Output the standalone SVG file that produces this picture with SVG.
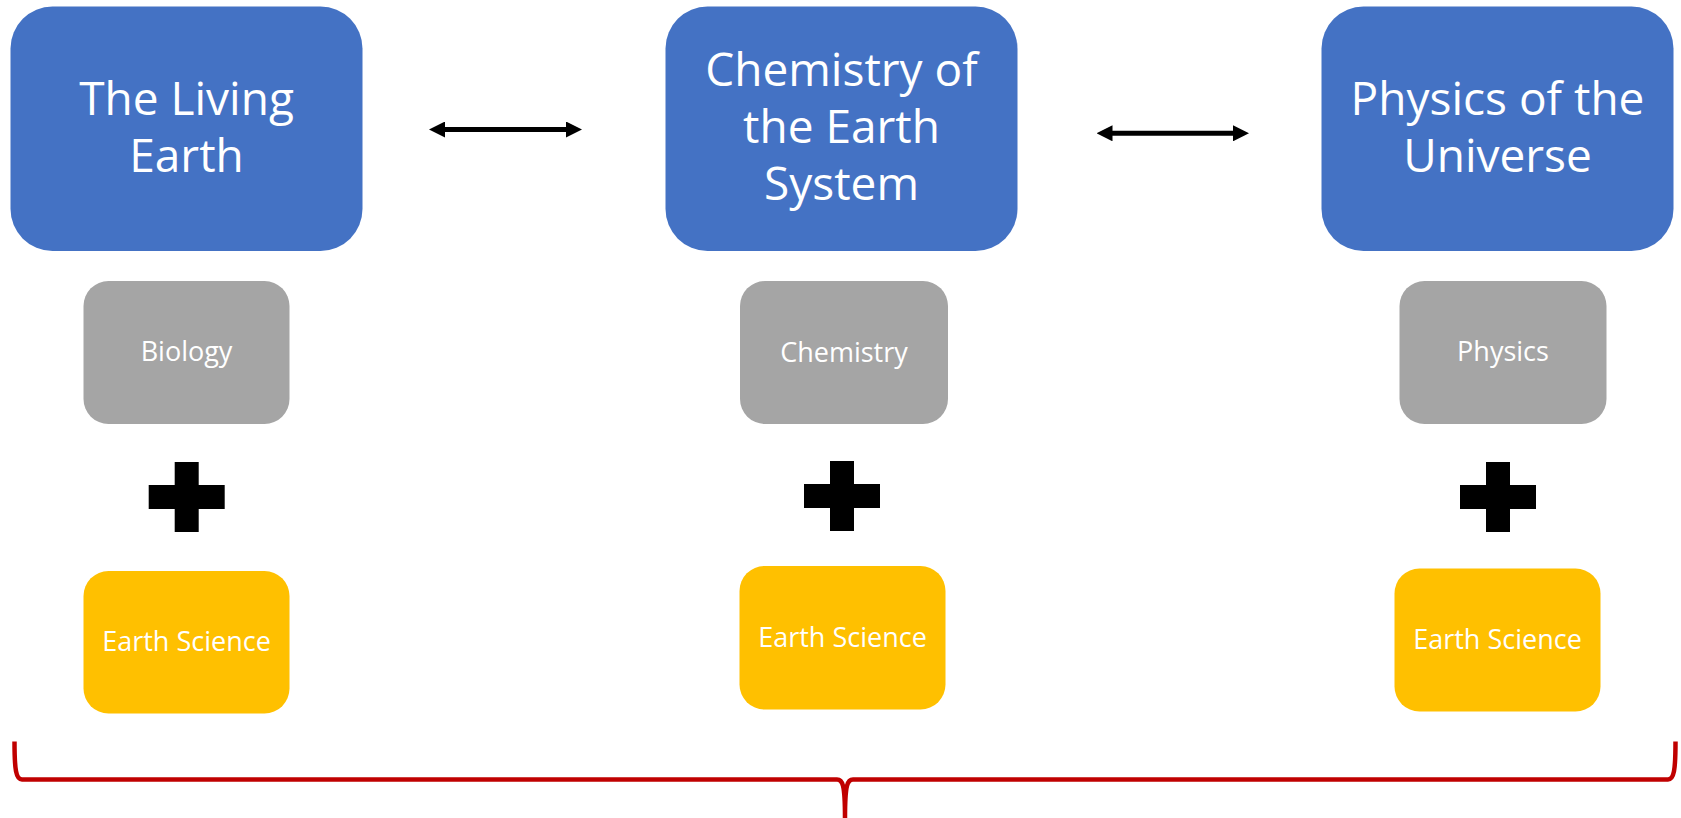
<svg xmlns="http://www.w3.org/2000/svg" width="1681" height="818" viewBox="0 0 1681 818">
<style>
.title{fill:#4472C4}
.sub{fill:#A5A5A5}
.earth{fill:#FFC000}
.big{font-family:"Open Sans","Liberation Sans",sans-serif;font-size:46px;fill:#FFFFFF;text-anchor:middle}
.small{font-family:"Open Sans","Liberation Sans",sans-serif;font-size:27px;fill:#FFFFFF;text-anchor:middle}
.plus{fill:#000000}
.conn{stroke:#000000;stroke-width:5;fill:none}
.brace{stroke:#C00000;stroke-width:4.5;fill:none;stroke-linejoin:round}
</style>
<defs>
<marker id="ah" viewBox="0 0 16 16" markerWidth="16" markerHeight="16" markerUnits="userSpaceOnUse" refX="8" refY="8" orient="auto-start-reverse">
<path d="M0,0 L16,8 L0,16 Z" fill="#000000"/>
</marker>
</defs>
<rect width="1681" height="818" fill="#FFFFFF"/>

<g id="living-earth">
<rect class="title" x="10.5" y="6.5" width="352" height="244.5" rx="42"/>
<text class="big" x="186.5" y="115">The Living</text>
<text class="big" x="186.5" y="172">Earth</text>
</g>
<g id="chemistry-earth-system">
<rect class="title" x="665.5" y="6.5" width="352" height="244.5" rx="42"/>
<text class="big" x="841.5" y="86">Chemistry of</text>
<text class="big" x="841.5" y="143">the Earth</text>
<text class="big" x="841.5" y="200">System</text>
</g>
<g id="physics-universe">
<rect class="title" x="1321.5" y="6.5" width="352" height="244.5" rx="42"/>
<text class="big" x="1497.5" y="115">Physics of the</text>
<text class="big" x="1497.5" y="172">Universe</text>
</g>

<g id="biology">
<rect class="sub" x="83.5" y="281" width="206" height="143" rx="25"/>
<text class="small" x="186.5" y="361">Biology</text>
</g>
<g id="chemistry">
<rect class="sub" x="740" y="281" width="208" height="143" rx="25"/>
<text class="small" x="844" y="362">Chemistry</text>
</g>
<g id="physics">
<rect class="sub" x="1399.5" y="281" width="207" height="143" rx="25"/>
<text class="small" x="1503" y="361">Physics</text>
</g>

<g id="plus-1"><path class="plus" d="M174.7,462 h24 v23 h26 v24 h-26 v23 h-24 v-23 h-26 v-24 h26 z"/></g>
<g id="plus-2"><path class="plus" d="M830,461 h24 v23 h26 v24 h-26 v23 h-24 v-23 h-26 v-24 h26 z"/></g>
<g id="plus-3"><path class="plus" d="M1486,462 h24 v23 h26 v24 h-26 v23 h-24 v-23 h-26 v-24 h26 z"/></g>

<g id="earth-science-1">
<rect class="earth" x="83.5" y="571" width="206" height="142.5" rx="25"/>
<text class="small" x="186.5" y="651">Earth Science</text>
</g>
<g id="earth-science-2">
<rect class="earth" x="739.5" y="566" width="206" height="143.5" rx="25"/>
<text class="small" x="842.5" y="647">Earth Science</text>
</g>
<g id="earth-science-3">
<rect class="earth" x="1394.5" y="568.5" width="206" height="143" rx="25"/>
<text class="small" x="1497.5" y="648.5">Earth Science</text>
</g>

<g id="connectors">
<line class="conn" x1="437" y1="129.5" x2="574" y2="129.5" marker-start="url(#ah)" marker-end="url(#ah)"/>
<line class="conn" x1="1104.5" y1="133.3" x2="1241" y2="133.3" marker-start="url(#ah)" marker-end="url(#ah)"/>
</g>

<g id="brace">
<path class="brace" d="M14.5,741.5 C14.5,770 16,779.5 22,779.5 L837,779.5 C842.5,779.5 845,784 845,818 C845,784 847.5,779.5 853,779.5 L1668,779.5 C1674,779.5 1675.5,770 1675.5,741.5"/>
</g>
</svg>
